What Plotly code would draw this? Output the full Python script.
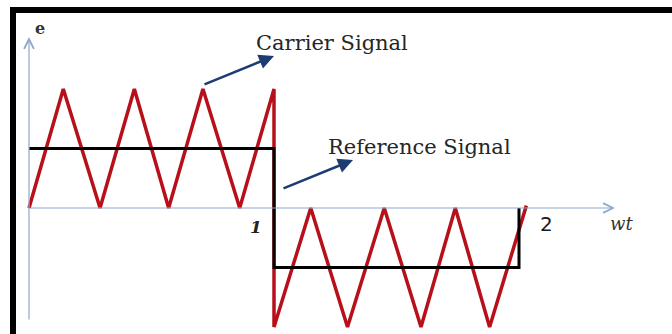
import plotly.graph_objects as go

# Carrier (triangular) signal vertices
carrier_x = [0, 0.14, 0.29, 0.43, 0.57, 0.71, 0.86, 1.0, 1.0, 1.15, 1.30, 1.45, 1.60, 1.74, 1.88, 2.03]
carrier_y = [0, 1, 0, 1, 0, 1, 0, 1, -1, 0, -1, 0, -1, 0, -1, 0.02]

# Reference (square) signal vertices
reference_x = [0, 1, 1, 2, 2]
reference_y = [0.5, 0.5, -0.5, -0.5, 0]

# Axis tick labels
tick_labels = {1: "1", 2: "2"}

W, H = 672, 334
X0 = -29 / 245
X1 = (W - 29) / 245
Y1 = 208 / 119
Y0 = -(H - 208) / 119


def px(xp):
    return (xp - 29) / 245


def py(yp):
    return (208 - yp) / 119


fig = go.Figure()
fig.add_trace(go.Scatter(x=carrier_x, y=carrier_y, mode="lines",
                         line=dict(color="#b8101a", width=3.5), showlegend=False,
                         hoverinfo="skip"))
fig.add_trace(go.Scatter(x=reference_x, y=reference_y, mode="lines",
                         line=dict(color="#000000", width=3), showlegend=False,
                         hoverinfo="skip"))

axis_col = "#8eaacb"
ann = []
# y axis
ann.append(dict(x=0, y=py(37), ax=0, ay=py(321), xref="x", yref="y", axref="x", ayref="y",
                text="", showarrow=True, arrowhead=5, arrowsize=1.6, arrowwidth=1.2,
                arrowcolor=axis_col))
# x axis
ann.append(dict(x=px(615), y=0, ax=0, ay=0, xref="x", yref="y", axref="x", ayref="y",
                text="", showarrow=True, arrowhead=5, arrowsize=1.6, arrowwidth=1.2,
                arrowcolor=axis_col))
# pointer arrows
navy = "#1f3b73"
ann.append(dict(x=px(274), y=py(56), ax=px(203), ay=py(85),
                xref="x", yref="y", axref="x", ayref="y", text="", showarrow=True,
                arrowhead=2, arrowsize=1.2, arrowwidth=2.5, arrowcolor=navy))
ann.append(dict(x=px(353), y=py(160), ax=px(282), ay=py(189),
                xref="x", yref="y", axref="x", ayref="y", text="", showarrow=True,
                arrowhead=2, arrowsize=1.2, arrowwidth=2.5, arrowcolor=navy))

serif = "DejaVu Serif"
ann.append(dict(x=px(332), y=py(43), xref="x", yref="y", text="Carrier Signal",
                showarrow=False, font=dict(family=serif, size=21, color="#262626")))
ann.append(dict(x=px(419), y=py(147), xref="x", yref="y", text="Reference Signal",
                showarrow=False, font=dict(family=serif, size=21, color="#262626")))
ann.append(dict(x=px(40), y=py(28), xref="x", yref="y", text="<b>e</b>",
                showarrow=False, font=dict(family=serif, size=16, color="#333333")))
ann.append(dict(x=px(621), y=py(223), xref="x", yref="y", text="<i>wt</i>",
                showarrow=False, font=dict(family=serif, size=18, color="#333333")))
ann.append(dict(x=px(256), y=py(227), xref="x", yref="y",
                text="<b><i>" + tick_labels[1] + "</i></b>",
                showarrow=False, font=dict(family=serif, size=17, color="#222222")))
ann.append(dict(x=px(546), y=py(224), xref="x", yref="y",
                text=tick_labels[2],
                showarrow=False, font=dict(family="DejaVu Sans", size=20, color="#1a1a1a")))

shapes = [
    dict(type="rect", xref="paper", yref="paper", x0=10 / W, x1=1, y0=1 - 13 / H, y1=1 - 7 / H,
         fillcolor="black", line=dict(width=0), layer="above"),
    dict(type="rect", xref="paper", yref="paper", x0=10 / W, x1=16 / W, y0=0, y1=1 - 7 / H,
         fillcolor="black", line=dict(width=0), layer="above"),
]

fig.update_layout(
    width=W, height=H,
    margin=dict(l=0, r=0, t=0, b=0),
    paper_bgcolor="white", plot_bgcolor="white",
    xaxis=dict(range=[X0, X1], visible=False, fixedrange=True),
    yaxis=dict(range=[Y0, Y1], visible=False, fixedrange=True),
    annotations=ann, shapes=shapes,
)

fig.write_html("out.html", config={"displayModeBar": False},
               post_script="document.body.style.margin='0';document.body.style.overflow='hidden';")
